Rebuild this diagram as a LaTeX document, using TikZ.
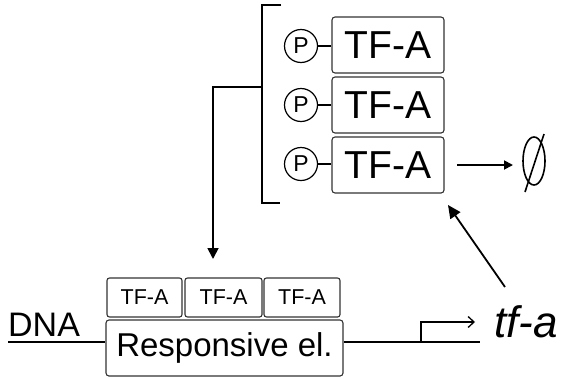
\documentclass[tikz,border=0pt]{standalone}
\usepackage{fontspec}
\setmainfont{Liberation Sans}
\usetikzlibrary{arrows.meta,shapes.geometric}
\begin{document}
\begin{tikzpicture}[x=1pt,y=-1pt,
  bigbox/.style={draw=black!80,line width=1.1pt,rounded corners=3pt,minimum width=112pt,minimum height=56pt,inner sep=0pt,font=\fontsize{39}{39}\selectfont},
  smallbox/.style={draw=black!80,line width=1.1pt,rounded corners=2.5pt,minimum height=39pt,inner sep=0pt,font=\fontsize{21.5}{21.5}\selectfont},
  pcirc/.style={draw,circle,line width=1.2pt,minimum size=33pt,inner sep=0pt,font=\fontsize{23}{23}\selectfont},
  conn/.style={line width=1.8pt},
  thin/.style={line width=1.3pt}]
\useasboundingbox (0,0) rectangle (561,378);
% bracket of TF-A complexes
\node[bigbox] (A1) at (388,45) {TF-A};
\node[bigbox] (A2) at (388,105) {TF-A};
\node[bigbox] (A3) at (388,165) {TF-A};
\node[pcirc] (P1) at (301,46) {P};
\node[pcirc] (P2) at (301,105) {P};
\node[pcirc] (P3) at (301,164) {P};
\draw[thin] (P1) -- (P1 -| A1.west);
\draw[thin] (P2) -- (P2 -| A2.west);
\draw[thin] (P3) -- (P3 -| A3.west);
\coordinate (bt) at (281,5);
\coordinate (bb) at (280,203);
\coordinate (bm) at (262,87);
\coordinate (dn) at (213,259);
\draw[conn] (bt) -- (262,5) -- (262,203) -- (bb);
\draw[conn,-{Triangle[length=11pt,width=11pt]}] (bm) -- (213,87) -- (dn);
% degradation
\coordinate (dgs) at (457,165);
\coordinate (dge) at (513,165);
\draw[conn,-{Triangle[length=9pt,width=9pt]}] (dgs) -- (dge);
\node[draw,ellipse,line width=1.6pt,minimum width=22pt,minimum height=48pt,inner sep=0pt] (phi) at (534,161) {};
\coordinate (s1) at (525,192);
\coordinate (s2) at (544,134);
\draw[line width=1.6pt] (s1) -- (s2);
% DNA
\node[smallbox,minimum width=75pt] (B1) at (144.5,297.5) {TF-A};
\node[smallbox,minimum width=77pt] (B2) at (223.5,297.5) {TF-A};
\node[smallbox,minimum width=76pt] (B3) at (302,297.5) {TF-A};
\node[draw=black!80,line width=1.1pt,rounded corners=3pt,minimum width=237pt,minimum height=56pt,inner sep=0pt,font=\fontsize{33}{33}\selectfont] (R) at (224.5,348) {Responsive el.};
\node[anchor=base west,inner sep=0pt,font=\fontsize{34}{34}\selectfont] (dna) at (8,336) {DNA};
\coordinate (d0) at (8,342);
\coordinate (d1) at (480,342);
\coordinate (pr) at (421,342);
\coordinate (pt) at (475,322);
\draw[thin] (d0) -- (d0 -| R.west);
\draw[thin] (d1 -| R.east) -- (d1);
\draw[thin,-{Straight Barb[length=6pt,width=11pt]}] (pr) -- (421,322) -- (pt);
\node[anchor=base west,inner sep=0pt,font=\fontsize{44}{44}\selectfont\itshape] (tfa) at (494,337) {tf-a};
\coordinate (ts) at (505,287);
\coordinate (te) at (448,205);
\draw[conn,-{Triangle[length=13pt,width=12pt]}] (ts) -- (te);
\end{tikzpicture}
\end{document}
